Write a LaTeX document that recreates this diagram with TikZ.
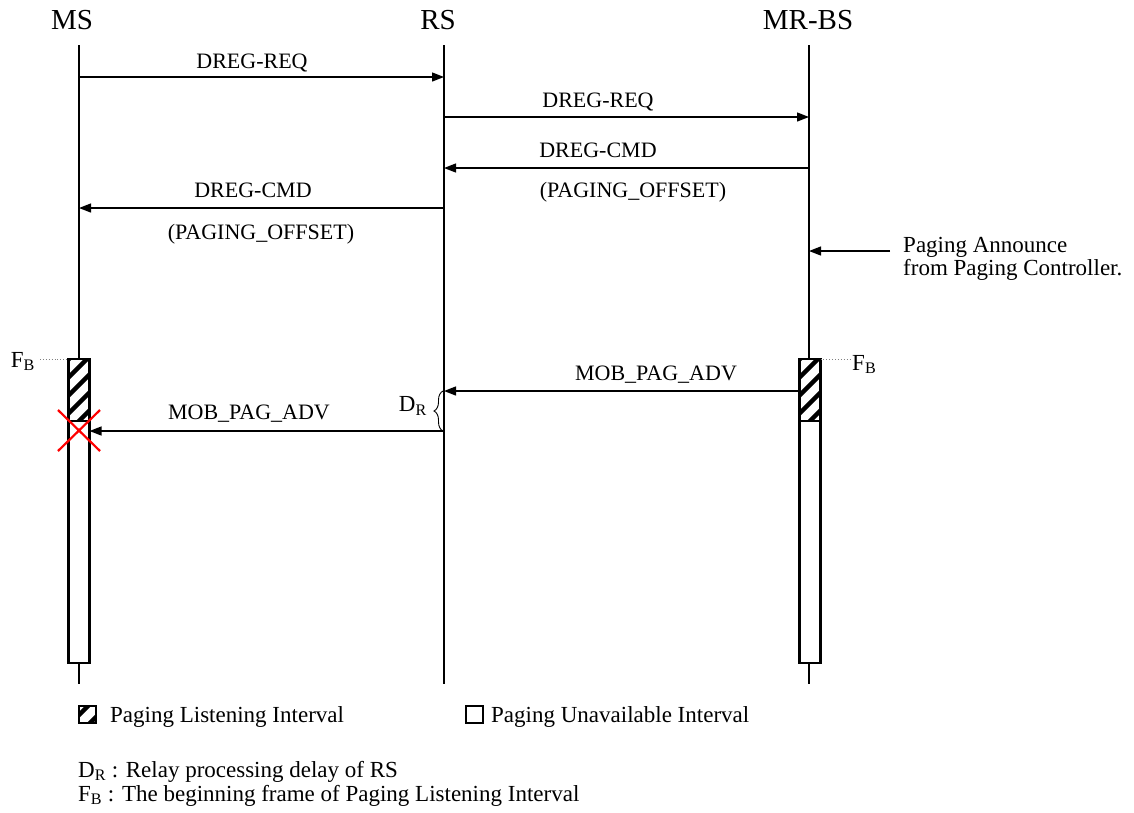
\documentclass[tikz,border=0pt]{standalone}
\usepackage{fontspec}
\setmainfont{Liberation Serif}
\usetikzlibrary{arrows.meta,decorations.pathreplacing}
\begin{document}
\begin{tikzpicture}[x=1pt,y=-1pt,
  life/.style={line width=1.3pt},
  msg/.style={line width=1.3pt,-{Triangle[length=12pt,width=9pt]}},
  lbl/.style={font=\fontsize{22}{26}\selectfont, inner sep=0pt},
  note/.style={font=\fontsize{23}{27}\selectfont, inner sep=0pt},
  ttl/.style={font=\fontsize{29}{33}\selectfont, inner sep=0pt},
  actbox/.style={draw,line width=2.6pt,fill=white},
  hatch/.style={line width=4.5pt},
  fbline/.style={gray,dotted,line width=0.9pt},
  cross/.style={red,line width=2.2pt}]
\useasboundingbox (0,0) rectangle (1134,812);

% titles
\node[ttl,anchor=base] (tms) at (72,29) {MS};
\node[ttl,anchor=base] (trs) at (438,29) {RS};
\node[ttl,anchor=base] (tbs) at (808,29) {MR-BS};

% lifelines
\coordinate (msT) at (79,45);  \coordinate (msB) at (79,684);
\coordinate (rsT) at (444,45); \coordinate (rsB) at (444,684);
\coordinate (bsT) at (809,45); \coordinate (bsB) at (809,684);
\draw[life] (msT) -- (msB);
\draw[life] (rsT) -- (rsB);
\draw[life] (bsT) -- (bsB);

% activation boxes
\draw[actbox] (68.5,359) rectangle (89.5,663);
\draw[actbox] (799.5,359) rectangle (820.5,663);
\begin{scope}
  \clip (68.5,359) rectangle (89.5,421);
  \foreach \k in {342,360,378,396,414,432,450}
    \draw[hatch] (66,\k+2) -- (92,\k-24);
\end{scope}
\begin{scope}
  \clip (799.5,359) rectangle (820.5,421);
  \foreach \k in {342,360,378,396,414,432,450}
    \draw[hatch] (797,\k+2) -- (823,\k-24);
\end{scope}
\draw[line width=2.6pt] (68.5,359) rectangle (89.5,421);
\draw[line width=2.6pt] (799.5,359) rectangle (820.5,421);

% message end points
\coordinate (m1a) at (79,77);   \coordinate (m1b) at (444,77);
\coordinate (m2a) at (444,117); \coordinate (m2b) at (809,117);
\coordinate (m3a) at (809,168); \coordinate (m3b) at (444,168);
\coordinate (m4a) at (444,208); \coordinate (m4b) at (79,208);
\coordinate (paS) at (890,251); \coordinate (paE) at (809,251);
\coordinate (m5a) at (799.5,391); \coordinate (m5b) at (444,391);
\coordinate (m6a) at (444,431); \coordinate (m6b) at (89.5,431);

\draw[msg] (m1a) -- (m1b);
\node[lbl,anchor=base] (l1) at (252,68) {DREG-REQ};
\draw[msg] (m2a) -- (m2b);
\node[lbl,anchor=base] (l2) at (598,107) {DREG-REQ};
\draw[msg] (m3a) -- (m3b);
\node[lbl,anchor=base] (l3) at (598,157) {DREG-CMD};
\node[lbl,anchor=base] (l3b) at (633,197) {(PAGING\_OFFSET)};
\draw[msg] (m4a) -- (m4b);
\node[lbl,anchor=base] (l4) at (253,197) {DREG-CMD};
\node[lbl,anchor=base] (l4b) at (261,239) {(PAGING\_OFFSET)};
\draw[msg] (paS) -- (paE);
\node[note,anchor=base west] (pa1) at (903,252) {Paging Announce};
\node[note,anchor=base west] (pa2) at (903,275) {from Paging Controller.};
\draw[msg] (m5a) -- (m5b);
\node[lbl,anchor=base] (l5) at (656,380) {MOB\_PAG\_ADV};
\draw[msg] (m6a) -- (m6b);
\node[lbl,anchor=base] (l6) at (249,419) {MOB\_PAG\_ADV};

% red cross
\draw[cross] (58,410) -- (100,451) (58,451) -- (100,410);

% delay brace
\coordinate (brB) at (443,431); \coordinate (brT) at (443,391);
\draw[line width=0.9pt,decorate,decoration={brace,amplitude=9pt}] (brB) -- (brT);
\node[note,anchor=east] (dr) at (427,406) {D\textsubscript{R}};

% F_B markers
\coordinate (fbl) at (40,359); \coordinate (fbr) at (851,359);
\draw[fbline] (fbl) -- (68.5,359);
\draw[fbline] (820.5,359) -- (fbr);
\node[note,anchor=base east] (fb1) at (35,367) {F\textsubscript{B}};
\node[note,anchor=base west] (fb2) at (852,370) {F\textsubscript{B}};

% legend
\draw[line width=1.6pt] (79,706) rectangle (96,723);
\begin{scope}
  \clip (79,706) rectangle (96,723);
  \draw[line width=4.5pt] (76,718) -- (90,704);
  \draw[line width=4.5pt] (86,727) -- (100,713);
\end{scope}
\node[note,anchor=base west] (leg1) at (110,722) {Paging Listening Interval};
\draw[line width=1.6pt,fill=white] (466,706) rectangle (483,723);
\node[note,anchor=base west] (leg2) at (491,722) {Paging Unavailable Interval};
\node[note,anchor=base west] (def1) at (78,777) {D\textsubscript{R} : Relay processing delay of RS};
\node[note,anchor=base west] (def2) at (78,801) {F\textsubscript{B} : The beginning frame of Paging Listening Interval};
\end{tikzpicture}
\end{document}
